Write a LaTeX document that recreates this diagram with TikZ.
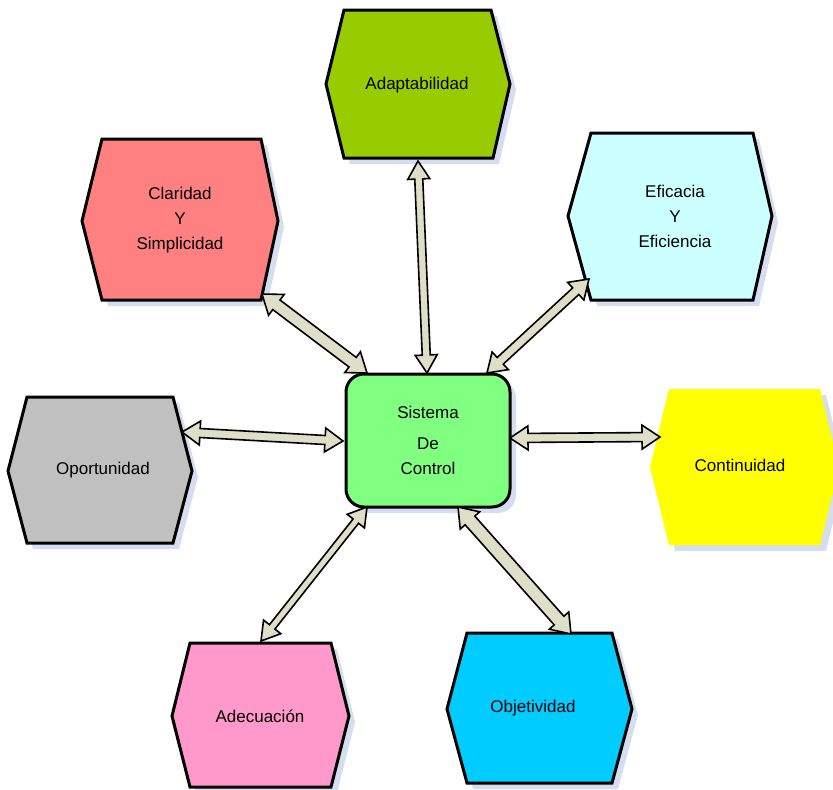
\documentclass[tikz,border=0pt]{standalone}
\usepackage{fontspec}
\setmainfont{Liberation Sans}
\usetikzlibrary{calc,shadows}

\definecolor{adaptgreen}{RGB}{153,204,0}
\definecolor{claridadred}{RGB}{255,128,128}
\definecolor{eficaciacyan}{RGB}{204,255,255}
\definecolor{oportgray}{RGB}{192,192,192}
\definecolor{continyellow}{RGB}{255,255,0}
\definecolor{adecpink}{RGB}{255,153,204}
\definecolor{objetblue}{RGB}{0,204,255}
\definecolor{sisgreen}{RGB}{128,255,128}
\definecolor{arrowfill}{RGB}{221,223,200}
\definecolor{shadowblue}{RGB}{214,221,239}

% double arrow between two named points: from, to, half shaft, half head
\newcommand{\dblarrow}[4]{%
  \coordinate (hA) at ($(#1)!18pt!(#2)$);
  \coordinate (hB) at ($(#2)!18pt!(#1)$);
  \draw[conn] (#1) -- ($(hA)!#4!90:(#2)$) -- ($(hA)!#3!90:(#2)$)
    -- ($(hB)!#3!90:(#2)$) -- ($(hB)!#4!90:(#2)$) -- (#2)
    -- ($(hB)!#4!-90:(#2)$) -- ($(hB)!#3!-90:(#2)$)
    -- ($(hA)!#3!-90:(#2)$) -- ($(hA)!#4!-90:(#2)$) -- cycle;
}

\begin{document}
\begin{tikzpicture}[x=1pt,y=-1pt,line join=miter,
    hexa/.style={draw=black,line width=3pt,
      drop shadow={shadow xshift=6pt,shadow yshift=-6pt,fill=shadowblue,opacity=1}},
    lbl/.style={align=center,inner sep=0pt,font=\fontsize{17}{25}\selectfont},
    conn/.style={draw=black,line width=1.6pt,fill=arrowfill,line join=miter},
    sisbox/.style={draw=black,line width=3pt,fill=sisgreen,rounded corners=18pt,
      minimum width=164pt,minimum height=133pt,align=center,
      font=\fontsize{17}{25}\selectfont,
      drop shadow={shadow xshift=6pt,shadow yshift=-6pt,fill=shadowblue,opacity=1}}]
  \useasboundingbox (0,0) rectangle (833,790);

  % hexagons
  \draw[hexa,fill=adaptgreen] (326,84)--(344,10)--(491,10)--(510,84)--(493,158)--(344,158)--cycle;
  \node[lbl] (adapt) at (417,85) {Adaptabilidad};

  \draw[hexa,fill=claridadred] (82,221)--(102,139)--(261,139)--(278,221)--(261,300)--(102,300)--cycle;
  \node[lbl] (clar) at (180,220) {Claridad\\Y\\Simplicidad};

  \draw[hexa,fill=eficaciacyan] (568,216)--(591,133)--(753,133)--(772,216)--(753,300)--(591,300)--cycle;
  \node[lbl] (efic) at (675,216) {Eficacia\\Y\\Eficiencia};

  \draw[hexa,fill=oportgray] (8,471)--(27,397)--(173,397)--(192,471)--(173,543)--(27,543)--cycle;
  \node[lbl] (oport) at (103,470) {Oportunidad};

  \path[fill=continyellow,drop shadow={shadow xshift=6pt,shadow yshift=-6pt,fill=shadowblue,opacity=1}]
    (650,467)--(669,389)--(820,389)--(839,467)--(820,545)--(669,545)--cycle;
  \node[lbl] (contin) at (740,465) {Continuidad};

  \draw[hexa,fill=adecpink] (172,716)--(190,643)--(331,643)--(349,716)--(331,787)--(190,787)--cycle;
  \node[lbl] (adec) at (260,716) {Adecuación};

  \draw[hexa,fill=objetblue] (447,709)--(467,633)--(612,633)--(632,709)--(612,783)--(467,783)--cycle;
  \node[lbl] (objet) at (533,708) {Objetividad};

  % centre
  \node[sisbox] (sis) at (428,440.5) {Sistema\\[6pt]De\\Control};

  % arrow ends
  \coordinate (adapt-e) at (418,161);  \coordinate (sis-n) at (427,373);
  \coordinate (clar-e) at (262,294);   \coordinate (sis-nw) at (367,373);
  \coordinate (efic-e) at (589,279);   \coordinate (sis-ne) at (487,373);
  \coordinate (oport-e) at (182,432);  \coordinate (sis-w) at (343,441);
  \coordinate (contin-e) at (660,437); \coordinate (sis-e) at (510,438);
  \coordinate (adec-e) at (261,641);   \coordinate (sis-sw) at (367,507);
  \coordinate (objet-e) at (571,634);  \coordinate (sis-se) at (458,507);

  \dblarrow{adapt-e}{sis-n}{4pt}{11pt}
  \dblarrow{clar-e}{sis-nw}{6pt}{13pt}
  \dblarrow{efic-e}{sis-ne}{4.5pt}{12pt}
  \dblarrow{oport-e}{sis-w}{4.5pt}{12pt}
  \dblarrow{contin-e}{sis-e}{4.5pt}{12pt}
  \dblarrow{adec-e}{sis-sw}{3.5pt}{11pt}
  \dblarrow{objet-e}{sis-se}{6.5pt}{13pt}
\end{tikzpicture}
\end{document}
